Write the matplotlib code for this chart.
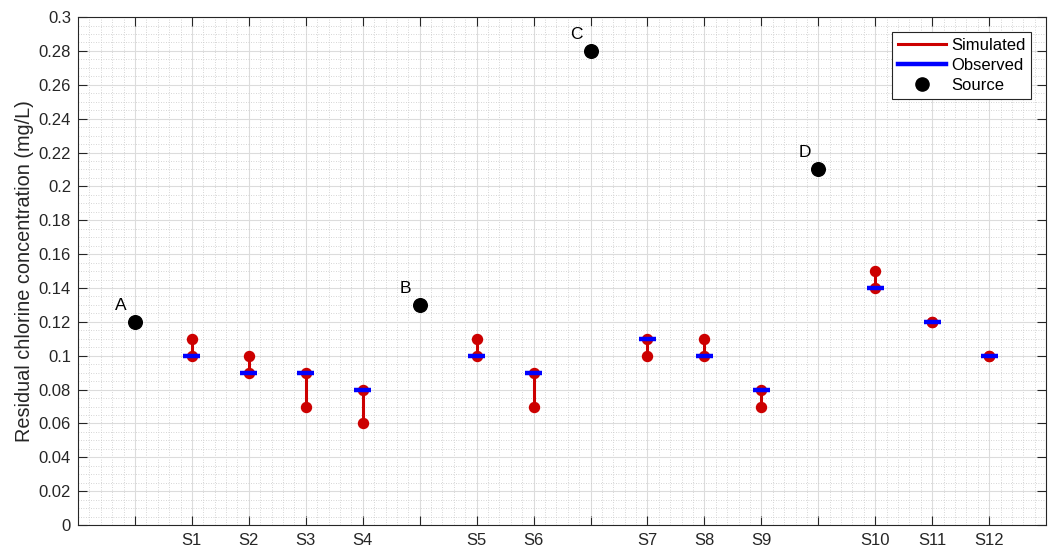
import matplotlib
matplotlib.use("Agg")
import matplotlib.pyplot as plt
from matplotlib.ticker import MultipleLocator
from matplotlib.lines import Line2D

plt.rcParams['font.family'] = ['Liberation Sans', 'DejaVu Sans']

# Data
source_names = ['A', 'B', 'C', 'D']
source_pos = [1, 6, 9, 13]
source_vals = [0.12, 0.13, 0.28, 0.21]

site_names = ['S1', 'S2', 'S3', 'S4', 'S5', 'S6', 'S7', 'S8', 'S9', 'S10', 'S11', 'S12']
site_pos = [2, 3, 4, 5, 7, 8, 10, 11, 12, 14, 15, 16]
simulated = [0.11, 0.10, 0.07, 0.06, 0.11, 0.07, 0.10, 0.11, 0.07, 0.15, 0.12, 0.10]
observed = [0.10, 0.09, 0.09, 0.08, 0.10, 0.09, 0.11, 0.10, 0.08, 0.14, 0.12, 0.10]

fig = plt.figure(figsize=(10.54, 5.51), dpi=100)
ax = fig.add_axes([0.074, 0.047, 0.9185, 0.922])

red = '#cc0000'
blue = '#0000ff'

for x, s, o in zip(site_pos, simulated, observed):
    ax.plot([x, x], [o, s], color=red, lw=2.2, zorder=3)
    ax.plot([x, x], [o, s], 'o', color=red, ms=7.2, zorder=3)
    ax.plot([x - 0.15, x + 0.15], [o, o], color=blue, lw=3.2, solid_capstyle='butt', zorder=4)

ax.plot(source_pos, source_vals, 'o', color='black', ms=9.8, zorder=5, linestyle='none')
for n, x, v in zip(source_names, source_pos, source_vals):
    ax.annotate(n, (x, v), xytext=(-10, 12), textcoords='offset points',
                ha='center', va='center', fontsize=12.5, color='black')

ax.set_xlim(0, 17)
ax.set_ylim(0, 0.3)

all_pos = sorted(source_pos + site_pos)
labels = []
for p in all_pos:
    if p in site_pos:
        labels.append(site_names[site_pos.index(p)])
    else:
        labels.append('')
ax.set_xticks(all_pos)
ax.set_xticklabels(labels)
ax.xaxis.set_minor_locator(MultipleLocator(0.2))
ax.yaxis.set_minor_locator(MultipleLocator(0.005))
ax.set_yticks([i * 0.02 for i in range(16)])
ax.set_yticklabels(['0'] + ['%g' % round(i * 0.02, 2) for i in range(1, 16)])

ax.tick_params(which='major', direction='in', length=6.5, width=0.8, top=True, right=True,
               labelsize=12, colors='#262626', pad=5)
ax.tick_params(which='minor', length=0, top=True, right=True)
ax.tick_params(axis='x', pad=6)

ax.grid(which='major', color='#dcdcdc', lw=0.8, zorder=0)
ax.grid(which='minor', color='#c8c8c8', lw=0.6, linestyle=(0, (1, 2)), zorder=0)
ax.set_axisbelow(True)

for sp in ax.spines.values():
    sp.set_color('#262626')
    sp.set_linewidth(0.8)

ax.set_ylabel('Residual chlorine concentration (mg/L)', fontsize=14.3, color='#262626', labelpad=3)

handles = [Line2D([], [], color=red, lw=2.2),
           Line2D([], [], color=blue, lw=3.2),
           Line2D([], [], color='black', marker='o', ms=9.5, linestyle='none')]
leg = ax.legend(handles, ['Simulated', 'Observed', 'Source'], loc='upper right',
                fontsize=12, frameon=True, fancybox=False, handlelength=2.9,
                borderpad=0.35, labelspacing=0.3, borderaxespad=0.9, handletextpad=0.3)
leg.get_frame().set_edgecolor('#262626')
leg.get_frame().set_linewidth(0.8)
leg.get_frame().set_alpha(1)

fig.savefig('out.png', dpi=100)
